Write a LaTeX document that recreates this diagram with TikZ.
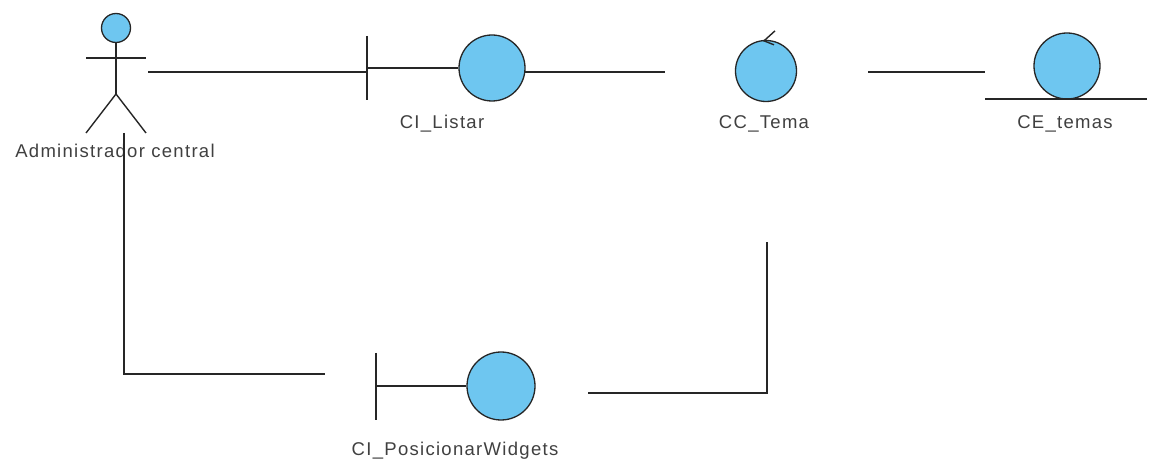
\documentclass[tikz,border=0pt]{standalone}
\usepackage{fontspec}
\setmainfont{Liberation Sans}
\newfontfamily\lblfont[LetterSpace=7]{Liberation Sans}
\begin{document}
\begin{tikzpicture}[x=1pt,y=-1pt,
  ln/.style={line width=1.4pt, draw=black!85},
  ball/.style={circle, draw=black!85, line width=1.3pt, fill=ballblue, inner sep=0pt},
  lbl/.style={font=\lblfont\fontsize{18.5}{21}\selectfont, text=black!75, inner sep=0pt}]
\definecolor{ballblue}{RGB}{110,198,240}
\useasboundingbox (0,0) rectangle (1152,470);
\fill[white] (0,0) rectangle (1152,470);

% Actor
\node[ball, minimum size=29pt] (head) at (116,28) {};
\coordinate (neck) at (116,94);
\draw[ln] (head.south) -- (neck);
\draw[ln] (86,58) -- (146,58);
\draw[ln] (86,133) -- (neck) -- (146,133);
\node[lbl] (actor) at (115,151) {Administrador central};

% CI_Listar (boundary)
\node[ball, minimum size=66pt] (listar) at (492,68) {};
\coordinate (listarbarT) at (367,36);
\coordinate (listarbarB) at (367,100);
\coordinate (listarbar) at (367,68);
\draw[ln] (listarbarT) -- (listarbarB);
\draw[ln] (listarbar) -- (listar.west);
\node[lbl] (listarL) at (442,124) {CI\_Listar};

% CC_Tema (control)
\node[ball, minimum size=61pt] (tema) at (766,71) {};
\draw[ln] ([shift={(9,-9)}]tema.north) -- ([shift={(-2,1)}]tema.north) -- ([shift={(8,5)}]tema.north);
\node[lbl] (temaL) at (764,124) {CC\_Tema};

% CE_temas (entity)
\node[ball, minimum size=66pt] (temas) at (1067,66) {};
\coordinate (temasUL) at (985,99);
\coordinate (temasUR) at (1147,99);
\draw[ln] (temasUL) -- (temasUR);
\node[lbl] (temasL) at (1065,124) {CE\_temas};

% CI_PosicionarWidgets (boundary)
\node[ball, minimum size=68pt] (pos) at (501,386) {};
\coordinate (posbarT) at (376,353);
\coordinate (posbarB) at (376,420);
\coordinate (posbar) at (376,386);
\draw[ln] (posbarT) -- (posbarB);
\draw[ln] (posbar) -- (pos.west);
\node[lbl] (posL) at (455,451) {CI\_PosicionarWidgets};

% Connectors
\coordinate (a1) at (148,72);
\coordinate (a2) at (367,72);
\draw[ln] (a1) -- (a2);
\coordinate (b0) at (525,72);
\coordinate (b1) at (665,72);
\draw[ln] (b0) -- (b1);
\coordinate (c1) at (868,72);
\coordinate (c2) at (985,72);
\draw[ln] (c1) -- (c2);
\coordinate (d1) at (124,133);
\coordinate (d2) at (325,374);
\draw[ln] (d1) |- (d2);
\coordinate (e1) at (588,393);
\coordinate (e2) at (767,242);
\draw[ln] (e1) -| (e2);
\end{tikzpicture}
\end{document}
